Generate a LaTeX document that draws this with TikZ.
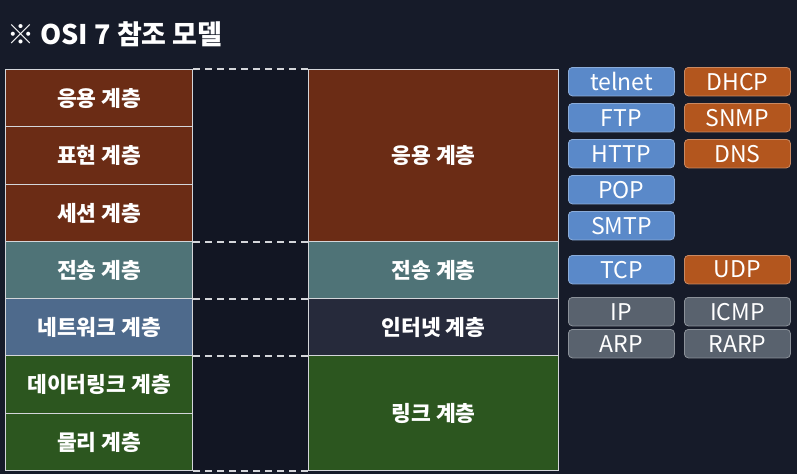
\documentclass[tikz,border=0pt]{standalone}
\usepackage{fontspec}
\setmainfont{Noto Sans CJK KR}
\usetikzlibrary{positioning}
\definecolor{BgNavy}{HTML}{161B29}
\definecolor{GapNavy}{HTML}{121623}
\definecolor{LineGray}{HTML}{D4D6DA}
\definecolor{AppBrown}{HTML}{6B2C15}
\definecolor{TransTeal}{HTML}{4F7377}
\definecolor{NetBlue}{HTML}{4E6A8C}
\definecolor{InetDark}{HTML}{262A3B}
\definecolor{LinkGreen}{HTML}{2C561F}
\definecolor{ProtoBlue}{HTML}{5A89C9}
\definecolor{ProtoOrange}{HTML}{B3561E}
\definecolor{ProtoGray}{HTML}{59626E}

\begin{document}
\begin{tikzpicture}[x=1pt, y=-1pt,
    layer/.style={draw=LineGray, line width=1.2pt, inner sep=0pt, anchor=north west,
        text=white, font=\fontsize{21.5}{23}\selectfont\bfseries},
    proto/.style={rounded corners=4pt, line width=0.8pt, inner sep=0pt, anchor=north west,
        minimum width=106pt, minimum height=28.5pt, text=white, font=\fontsize{23}{25}\selectfont},
    gapline/.style={draw=LineGray, line width=1.6pt, dash pattern=on 7pt off 5pt}]
    \useasboundingbox (0,0) rectangle (797,474);
    \fill[BgNavy] (0,0) rectangle (797,474);
    \fill[GapNavy] (192,69) rectangle (308,470);
    % title
    \node[anchor=west, text=white, font=\fontsize{27}{30}\selectfont\bfseries, inner sep=0pt] (title) at (7,34) {※ OSI 7 참조 모델};
    % OSI 7 layers
    \node[layer, fill=AppBrown, minimum width=187pt, minimum height=57pt] (osiapp) at (5,69) {응용 계층};
    \node[layer, fill=AppBrown, minimum width=187pt, minimum height=58pt] (osipres) at (5,126) {표현 계층};
    \node[layer, fill=AppBrown, minimum width=187pt, minimum height=57pt] (osisess) at (5,184) {세션 계층};
    \node[layer, fill=TransTeal, minimum width=187pt, minimum height=57pt] (ositrans) at (5,241) {전송 계층};
    \node[layer, fill=NetBlue, minimum width=187pt, minimum height=57pt] (osinet) at (5,298) {네트워크 계층};
    \node[layer, fill=LinkGreen, minimum width=187pt, minimum height=58pt] (osilink) at (5,355) {데이터링크 계층};
    \node[layer, fill=LinkGreen, minimum width=187pt, minimum height=57pt] (osiphys) at (5,413) {물리 계층};
    % TCP/IP layers
    \node[layer, fill=AppBrown, minimum width=250pt, minimum height=172pt] (tcpapp) at (308,69) {응용 계층};
    \node[layer, fill=TransTeal, minimum width=250pt, minimum height=57pt] (tcptrans) at (308,241) {전송 계층};
    \node[layer, fill=InetDark, minimum width=250pt, minimum height=57pt] (tcpinet) at (308,298) {인터넷 계층};
    \node[layer, fill=LinkGreen, minimum width=250pt, minimum height=115pt] (tcplink) at (308,355) {링크 계층};
    % dashed guides
    \draw[gapline] (osiapp.north east) -- (tcpapp.north west);
    \draw[gapline] (osisess.south east) -- (tcpapp.south west);
    \draw[gapline] (ositrans.south east) -- (tcptrans.south west);
    \draw[gapline] (osinet.south east) -- (tcpinet.south west);
    \draw[gapline] (osiphys.south east) -- (tcplink.south west);
    % protocols
    \node[proto, fill=ProtoBlue, draw=ProtoBlue!70!white] (telnet) at (568,67) {telnet};
    \node[proto, fill=ProtoBlue, draw=ProtoBlue!70!white] (ftp) at (568,103) {FTP};
    \node[proto, fill=ProtoBlue, draw=ProtoBlue!70!white] (http) at (568,139) {HTTP};
    \node[proto, fill=ProtoBlue, draw=ProtoBlue!70!white] (pop) at (568,175) {POP};
    \node[proto, fill=ProtoBlue, draw=ProtoBlue!70!white] (smtp) at (568,211) {SMTP};
    \node[proto, fill=ProtoOrange, draw=ProtoOrange!70!white] (dhcp) at (684,67) {DHCP};
    \node[proto, fill=ProtoOrange, draw=ProtoOrange!70!white] (snmp) at (684,103) {SNMP};
    \node[proto, fill=ProtoOrange, draw=ProtoOrange!70!white] (dns) at (684,139) {DNS};
    \node[proto, fill=ProtoBlue, draw=ProtoBlue!70!white] (tcp) at (568,255) {TCP};
    \node[proto, fill=ProtoOrange, draw=ProtoOrange!70!white] (udp) at (684,255) {UDP};
    \node[proto, fill=ProtoGray, draw=ProtoGray!70!white] (ip) at (568,297) {IP};
    \node[proto, fill=ProtoGray, draw=ProtoGray!70!white] (icmp) at (684,297) {ICMP};
    \node[proto, fill=ProtoGray, draw=ProtoGray!70!white] (arp) at (568,329) {ARP};
    \node[proto, fill=ProtoGray, draw=ProtoGray!70!white] (rarp) at (684,329) {RARP};
\end{tikzpicture}
\end{document}
